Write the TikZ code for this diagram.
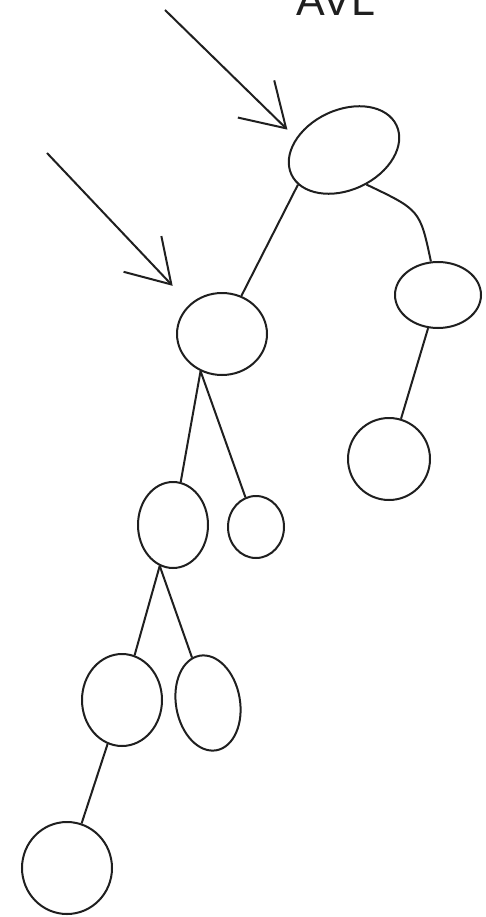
\documentclass[tikz,border=0pt]{standalone}
\usepackage{fontspec}
\setmainfont{Liberation Sans}
\usetikzlibrary{arrows.meta,shapes.geometric}

\begin{document}
\begin{tikzpicture}[x=1pt,y=-1pt,line width=2pt,black!88,
    knot/.style={draw,ellipse,inner sep=0pt},
    pointer/.style={-{Straight Barb[length=42pt,width=52pt]}}]

    \useasboundingbox (0,0) rectangle (486,917);
    \clip (0,0) rectangle (486,917);

    % Titulo
    \node[font=\fontsize{43}{50}\selectfont,anchor=base] (title) at (336,16) {AVL};

    % Nos da arvore
    \foreach \name/\x/\y/\rx/\ry/\rot in {
      A/344/150/58/40/25,
      B/222/334/45/41/0,
      C/438/295/43/33/0,
      D/389/459/41/41/0,
      E/173/525/35/43/0,
      F/256/527/28/31/0,
      G/122/700/40/46/0,
      H/208/703/32/48/10,
      I/67/868/45/46/0}{
      \node[knot,minimum width=2*\rx pt,minimum height=2*\ry pt,
            rotate=\rot] (\name) at (\x,\y) {};
    }

    % Arestas
    \draw (A.192) -- (B);
    \draw (A.278) .. controls (420,210) .. (C);
    \draw (C) -- (D);
    \draw (B.240) -- (E);
    \draw (B.240) -- (F);
    \draw (E.252) -- (G);
    \draw (E.252) -- (H);
    \draw (G) -- (I);

    % Setas
    \coordinate (tailA) at (165,10);
    \coordinate (tailB) at (47,153);
    \draw[pointer,shorten >=12pt] (tailA) -- (A.141);
    \draw[pointer,shorten >=25pt] (tailB) -- (B.137);

\end{tikzpicture}
\end{document}
